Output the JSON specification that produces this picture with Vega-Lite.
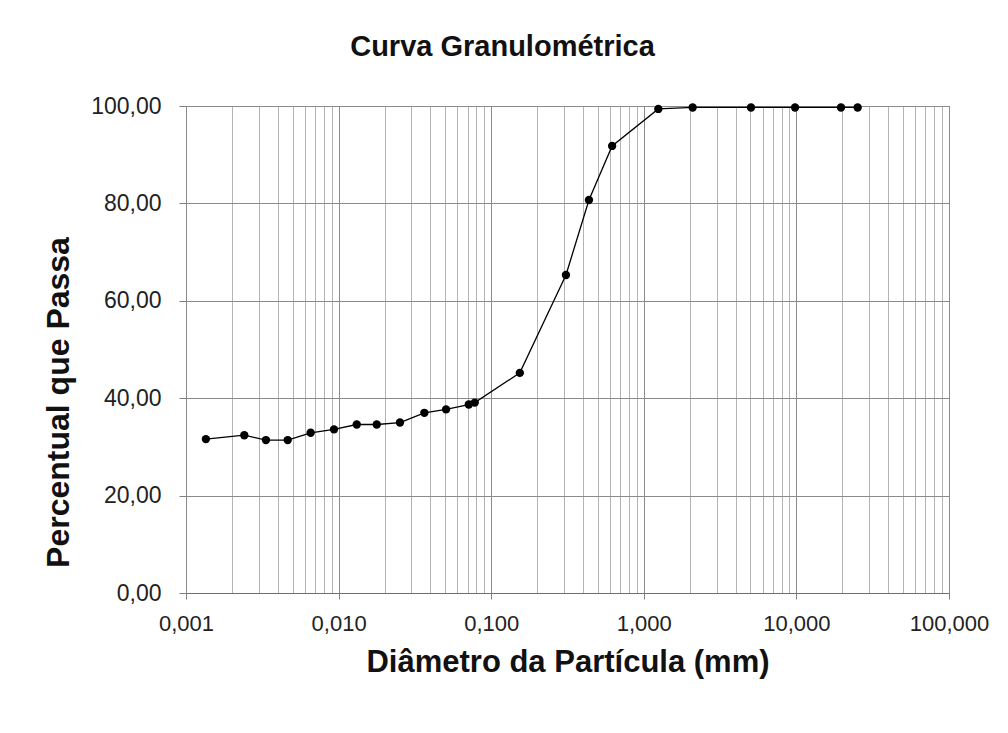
{
  "$schema": "https://vega.github.io/schema/vega-lite/v6.json",
  "autosize": "none",
  "width": 763,
  "height": 487,
  "padding": {"left": 186, "top": 106, "right": 59, "bottom": 140},
  "background": "white",
  "config": {
    "font": "Liberation Sans",
    "view": {"stroke": "#808080", "strokeWidth": 1}
  },
  "title": {
    "text": "Curva Granulométrica",
    "font": "Liberation Sans",
    "fontSize": 29,
    "fontWeight": "bold",
    "color": "#111111",
    "anchor": "middle",
    "frame": "group",
    "baseline": "alphabetic",
    "offset": 10,
    "dx": -65
  },
  "data": {
    "values": [
      {"d": 0.00135, "p": 31.6},
      {"d": 0.00241, "p": 32.4},
      {"d": 0.00334, "p": 31.4},
      {"d": 0.00464, "p": 31.4},
      {"d": 0.00656, "p": 32.9},
      {"d": 0.00933, "p": 33.6},
      {"d": 0.01315, "p": 34.6},
      {"d": 0.01778, "p": 34.6},
      {"d": 0.02524, "p": 35.0},
      {"d": 0.03648, "p": 37.0},
      {"d": 0.0506, "p": 37.7},
      {"d": 0.0713, "p": 38.7},
      {"d": 0.078, "p": 39.1},
      {"d": 0.154, "p": 45.2},
      {"d": 0.309, "p": 65.3},
      {"d": 0.437, "p": 80.7},
      {"d": 0.62, "p": 91.8},
      {"d": 1.245, "p": 99.4},
      {"d": 2.09, "p": 99.7},
      {"d": 5.04, "p": 99.7},
      {"d": 9.8, "p": 99.7},
      {"d": 19.6, "p": 99.7},
      {"d": 25.2, "p": 99.7}
    ]
  },
  "encoding": {
    "x": {
      "field": "d",
      "type": "quantitative",
      "scale": {"type": "log", "domain": [0.001, 100], "nice": false},
      "axis": {
        "title": "Diâmetro da Partícula (mm)",
        "titleFont": "Liberation Sans",
        "titleFontSize": 31,
        "titleFontWeight": "bold",
        "titleColor": "#111111",
        "titlePadding": 13,
        "values": [0.001,0.002,0.003,0.004,0.005,0.006,0.007,0.008,0.009,0.01,0.02,0.03,0.04,0.05,0.06,0.07,0.08,0.09,0.1,0.2,0.3,0.4,0.5,0.6,0.7,0.8,0.9,1,2,3,4,5,6,7,8,9,10,20,30,40,50,60,70,80,90,100],
        "labelExpr": "abs(log(datum.value)/LN10 - round(log(datum.value)/LN10)) < 0.000001 ? replace(format(datum.value, '.3f'), '.', ',') : ''",
        "labelOverlap": false,
        "labelFontSize": 22,
        "labelColor": "#222222",
        "labelPadding": 14,
        "labelFlush": false,
        "grid": true,
        "gridColor": {"condition": {"test": "abs(log(datum.value)/LN10 - round(log(datum.value)/LN10)) < 0.000001", "value": "#8a8a8a"}, "value": "#b4b4b4"},
        "gridWidth": 1,
        "tickSize": {"condition": {"test": "abs(log(datum.value)/LN10 - round(log(datum.value)/LN10)) < 0.000001", "value": 6}, "value": 0},
        "tickColor": "#808080",
        "domainColor": "#707070"
      }
    },
    "y": {
      "field": "p",
      "type": "quantitative",
      "scale": {"domain": [0, 100], "nice": false},
      "axis": {
        "title": "Percentual que Passa",
        "titleFont": "Liberation Sans",
        "titleFontSize": 32,
        "titleFontWeight": "bold",
        "titleColor": "#111111",
        "titleAngle": -90,
        "titleX": -128,
        "titleY": 296,
        "titleAlign": "center",
        "titleBaseline": "middle",
        "values": [0, 20, 40, 60, 80, 100],
        "labelExpr": "replace(format(datum.value, '.2f'), '.', ',')",
        "labelFontSize": 23,
        "labelColor": "#222222",
        "labelPadding": 18,
        "grid": true,
        "gridColor": "#8a8a8a",
        "tickSize": 7,
        "tickColor": "#808080",
        "domain": false
      }
    }
  },
  "layer": [
    {"mark": {"type": "line", "color": "#000000", "strokeWidth": 1.3}},
    {"mark": {"type": "point", "filled": true, "color": "#000000", "opacity": 1, "size": 70}}
  ]
}
